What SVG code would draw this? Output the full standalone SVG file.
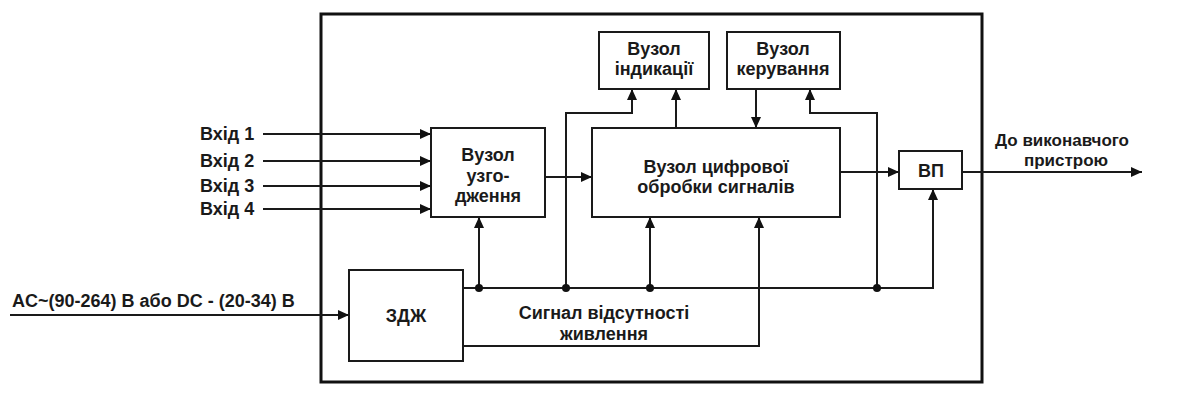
<svg xmlns="http://www.w3.org/2000/svg" width="1200" height="400" viewBox="0 0 1200 400">
<style>
  .box { fill: #ffffff; stroke: #1a1a1a; stroke-width: 2; }
  .frame { fill: none; stroke: #111111; stroke-width: 3; }
  .wire { fill: none; stroke: #1a1a1a; stroke-width: 2; }
  .arrow { marker-end: url(#ah); }
  .dot { fill: #111111; }
  text { font-family: "Liberation Sans", Arial, sans-serif; font-weight: bold; font-size: 18px; fill: #1a1a1a; }
  .c { text-anchor: middle; }
  .s { font-size: 17px; }
</style>
<defs>
  <marker id="ah" markerUnits="userSpaceOnUse" markerWidth="11" markerHeight="10" viewBox="0 0 11 10" refX="11" refY="5" orient="auto">
    <path d="M0,0 L11,5 L0,10 z" fill="#111111"/>
  </marker>
</defs>

<rect class="frame" x="321" y="14" width="661" height="368"/>

<g id="connectors">
  <!-- inputs -->
  <line class="wire arrow" x1="263" y1="134" x2="431" y2="134"/>
  <line class="wire arrow" x1="263" y1="161" x2="431" y2="161"/>
  <line class="wire arrow" x1="263" y1="186" x2="431" y2="186"/>
  <line class="wire arrow" x1="263" y1="209" x2="431" y2="209"/>
  <!-- power input -->
  <line class="wire arrow" x1="10" y1="315" x2="349" y2="315"/>
  <!-- узгодження -> цифрової -->
  <line class="wire arrow" x1="545" y1="177" x2="592" y2="177"/>
  <!-- цифрової -> ВП -->
  <line class="wire arrow" x1="840" y1="172" x2="899" y2="172"/>
  <!-- ВП -> output -->
  <line class="wire arrow" x1="963" y1="172" x2="1142" y2="172"/>
  <!-- цифрової -> індикації -->
  <line class="wire arrow" x1="676" y1="128" x2="676" y2="89"/>
  <!-- керування -> цифрової -->
  <line class="wire arrow" x1="756" y1="89" x2="756" y2="128"/>
  <!-- bus -->
  <polyline class="wire arrow" points="463,288 933,288 933,189"/>
  <line class="wire arrow" x1="479" y1="288" x2="479" y2="217"/>
  <line class="wire arrow" x1="650" y1="288" x2="650" y2="217"/>
  <polyline class="wire arrow" points="566,288 566,113 632,113 632,89"/>
  <polyline class="wire arrow" points="877,288 877,113 810,113 810,89"/>
  <!-- signal of power absence -->
  <polyline class="wire arrow" points="463,346 759,346 759,217"/>
  <!-- junctions -->
  <circle class="dot" cx="479" cy="288" r="4"/>
  <circle class="dot" cx="566" cy="288" r="4"/>
  <circle class="dot" cx="650" cy="288" r="4"/>
  <circle class="dot" cx="877" cy="288" r="4"/>
</g>

<g id="inputs-labels">
  <text x="200" y="140">Вхід 1</text>
  <text x="200" y="167">Вхід 2</text>
  <text x="200" y="192">Вхід 3</text>
  <text x="200" y="215">Вхід 4</text>
  <text x="12" y="307">AC~(90-264) В або DC - (20-34) В</text>
  <text class="c s" x="1062" y="146">До виконавчого</text>
  <text class="c s" x="1066" y="166">пристрою</text>
  <text class="c" x="604" y="319">Сигнал відсутності</text>
  <text class="c" x="604" y="340">живлення</text>
</g>

<g id="node-uzgodzhennia">
  <rect class="box" x="431" y="128" width="114" height="89"/>
  <text class="c" x="488" y="161">Вузол</text>
  <text class="c" x="488" y="182">узго-</text>
  <text class="c" x="488" y="202">дження</text>
</g>

<g id="node-tsyfrovoi">
  <rect class="box" x="592" y="128" width="248" height="89"/>
  <text class="c" x="716" y="173">Вузол цифрової</text>
  <text class="c" x="716" y="193">обробки сигналів</text>
</g>

<g id="node-indykatsii">
  <rect class="box" x="599" y="32" width="110" height="57"/>
  <text class="c" x="654" y="55">Вузол</text>
  <text class="c" x="654" y="75">індикації</text>
</g>

<g id="node-keruvannia">
  <rect class="box" x="727" y="32" width="113" height="57"/>
  <text class="c" x="783" y="55">Вузол</text>
  <text class="c" x="783" y="75">керування</text>
</g>

<g id="node-vp">
  <rect class="box" x="899" y="151" width="63" height="38"/>
  <text class="c" x="931" y="177">ВП</text>
</g>

<g id="node-zdzh">
  <rect class="box" x="349" y="270" width="114" height="91"/>
  <text class="c" x="406" y="322">ЗДЖ</text>
</g>
</svg>
